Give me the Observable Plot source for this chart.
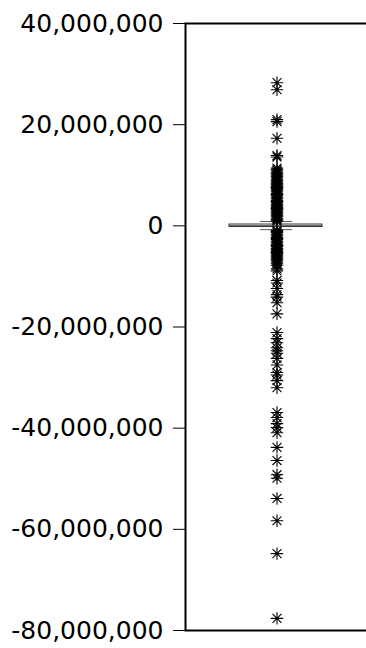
<!DOCTYPE html>
<html>
<head>
<meta charset="utf-8">
<script src="https://cdn.jsdelivr.net/npm/d3@7"></script>
<script src="https://cdn.jsdelivr.net/npm/@observablehq/plot@0.6"></script>
<style>
  html, body { margin: 0; padding: 0; background: #fff; }
  #chart svg { display: block; }
</style>
</head>
<body>
<div id="chart"></div>
<script>
// ---- data ----
const categories = ["Series"];
const yTicks = [-80000000, -60000000, -40000000, -20000000, 0, 20000000, 40000000];
const yDomain = [-80000000, 40000000];
const quartiles = [-240000, 10000, 260000]; // Q1, median, Q3
const whiskers = [-750000, 850000];          // low, high
const outliers = [
  28300000, 26900000, 21000000, 20600000, 17300000, 13900000, 13600000,
  11400000, 11100000, 10900000, 10600000, 10400000, 10200000, 9900000, 9700000,
  9500000, 9200000, 9000000, 8800000, 8500000, 8300000, 8100000, 7800000,
  7600000, 7400000, 7100000, 6900000, 6700000, 6400000, 6200000, 6000000,
  5700000, 5500000, 5300000, 5000000, 4800000, 4600000, 4300000, 4100000,
  3900000, 3600000, 3400000, 3200000, 2900000, 2700000, 2500000, 2200000,
  2000000, 1800000, 1500000, 1300000, 1100000, 900000,
  -900000, -1100000, -1300000, -1600000, -1800000, -2000000, -2300000,
  -2500000, -2700000, -3000000, -3200000, -3400000, -3700000, -3900000,
  -4100000, -4400000, -4600000, -4800000, -5100000, -5300000, -5500000,
  -5800000, -6000000, -6200000, -6500000, -6700000, -6900000, -7200000,
  -7500000, -7800000,
  -8500000, -8900000, -10800000, -11300000, -12400000, -13600000, -14100000,
  -15200000, -17400000,
  -21100000, -22300000, -23100000, -24100000, -24700000, -25200000,
  -26200000, -27500000, -29000000, -29500000, -30600000, -32000000,
  -36900000, -37900000, -39100000, -39900000, -40900000,
  -43800000, -46400000, -49200000, -49900000, -53900000, -58300000,
  -64800000, -77600000
];

// ---- custom 8-spoke asterisk symbol ----
const asterisk = {
  draw(ctx, size) {
    const r = Math.sqrt(size / Math.PI);
    const d = r * 0.72;
    ctx.moveTo(-r, 0); ctx.lineTo(r, 0);
    ctx.moveTo(0, -r); ctx.lineTo(0, r);
    ctx.moveTo(-d, -d); ctx.lineTo(d, d);
    ctx.moveTo(-d, d); ctx.lineTo(d, -d);
  }
};

const cat = () => categories[0];

const chart = Plot.plot({
  width: 366,
  height: 648,
  marginTop: 23,
  marginBottom: 18,
  marginLeft: 185,
  marginRight: -2,
  style: { fontFamily: "'DejaVu Sans', sans-serif", fontSize: "25px", color: "black", background: "white" },
  x: { type: "band", domain: categories, padding: 0, axis: null },
  y: { domain: yDomain, range: [630, 23] },
  marks: [
    Plot.ruleX(categories, { x: d => d, y1: whiskers[0], y2: whiskers[1], stroke: "black" }),
    Plot.barY(categories, { x: d => d, y1: quartiles[0], y2: quartiles[2], fill: "white", stroke: "#333", strokeWidth: 1, insetLeft: 44, insetRight: 46 }),
    Plot.tickY(whiskers, { x: cat, y: d => d, stroke: "#555", insetLeft: 75, insetRight: 76 }),
    Plot.dot(outliers, { x: cat, y: d => d, symbol: asterisk, r: 6.2, fill: "none", stroke: "black", strokeWidth: 1.1 }),
    Plot.tickY([quartiles[1]], { x: cat, y: d => d, stroke: "#333", insetLeft: 44, insetRight: 46 }),
    Plot.frame({ stroke: "black", strokeWidth: 2 }),
    Plot.axisY({
      ticks: yTicks,
      tickFormat: d => d.toLocaleString("en-US"),
      tickSize: 12,
      tickPadding: 10,
      stroke: "black",
      fill: "black",
      fontSize: 25,
      label: null
    })
  ]
});

document.getElementById("chart").appendChild(chart);
</script>
</body>
</html>
